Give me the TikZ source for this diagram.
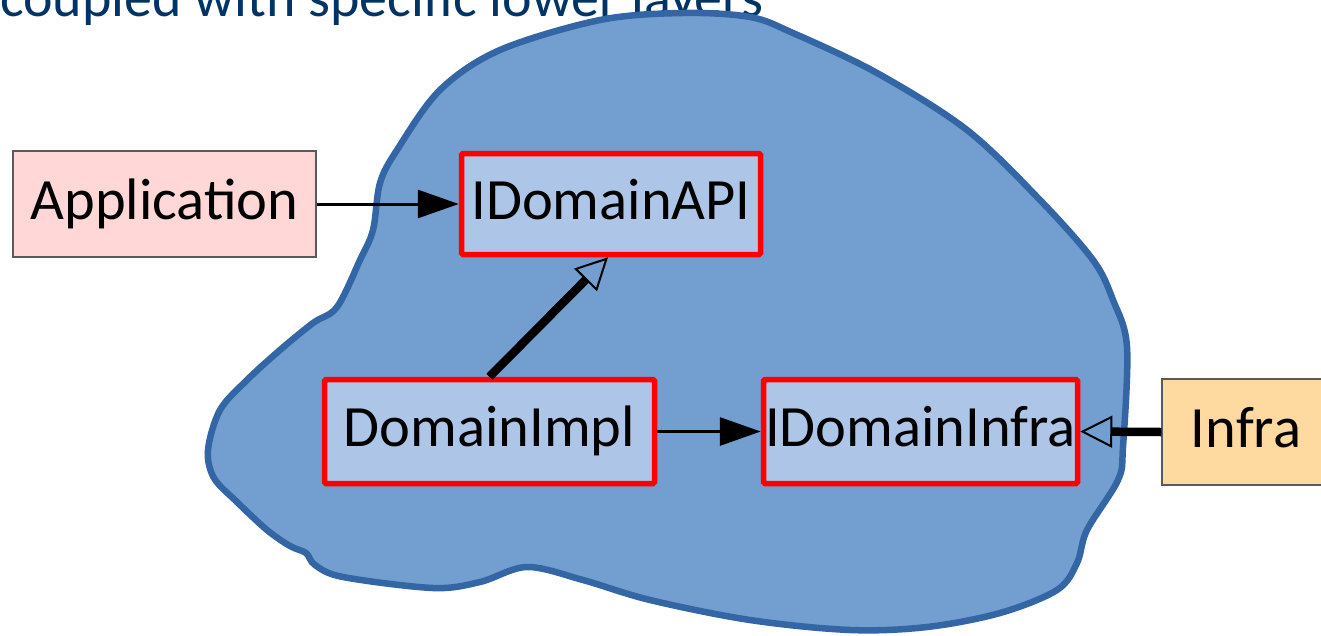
\documentclass[tikz,border=0pt]{standalone}
\usepackage{fontspec}
\setmainfont{Carlito}
\usetikzlibrary{arrows.meta,calc}

\definecolor{blobfill}{RGB}{114,159,207}
\definecolor{blobline}{RGB}{52,101,164}
\definecolor{ifacefill}{RGB}{173,198,231}
\definecolor{appfill}{RGB}{255,215,215}
\definecolor{infrafill}{RGB}{255,218,160}
\definecolor{titleblue}{RGB}{0,51,102}
\definecolor{edgegray}{RGB}{90,90,90}

\tikzset{
  lbl/.style={font=\fontsize{58.5}{62}\selectfont, text height=42pt, text depth=12pt, inner sep=0pt, text=black},
  iface/.style={lbl, draw=red, line width=5.5pt, fill=ifacefill, rounded corners=1.5pt},
  outer/.style={lbl, draw=edgegray, line width=1.2pt},
  usesarrow/.style={line width=3pt, -{Triangle[length=41pt,width=28pt]}},
  implarrow/.style={line width=8.5pt, -{Triangle[open,length=32pt,width=32pt,line width=2pt]}},
  blob/.style={draw=blobline, line width=6.5pt, fill=blobfill, line join=round}
}

\begin{document}
\begin{tikzpicture}[x=1pt,y=-1pt]
  \useasboundingbox (0,0) rectangle (1321,635);

  % heading line, partly above the page edge
  \node[anchor=base west, inner sep=0pt, text=titleblue,
        font=\fontsize{56}{60}\selectfont] (heading) at (0,16)
        {coupled with specific lower layers};

  % domain area
  \draw[blob] plot[smooth cycle, tension=0.55] coordinates {
    (397,150) (440,90) (500,50) (600,20) (683,13) (750,17) (793,33)
    (877,73) (967,130) (1040,200) (1093,260) (1113,300) (1127,347)
    (1123,447) (1118,480) (1087,530) (1077,563) (1057,590) (1000,613)
    (927,627) (850,630) (750,620) (650,600) (583,580) (527,567)
    (480,582) (433,588) (343,577) (315,565) (306,553) (290,546)
    (267,530) (237,502) (214,478) (208,450) (220,410) (247,380)
    (280,350) (313,323) (337,307) (360,260) (373,230) (380,183)
  };

  % boxes
  \node[outer, fill=appfill, minimum width=303pt, minimum height=106pt]
    (app) at (164.5,204) {Application};
  \node[iface, minimum width=299pt, minimum height=101pt]
    (api) at (611,204) {IDomainAPI};
  \node[iface, minimum width=330pt, minimum height=104pt]
    (impl) at (489.5,431.5) {DomainImpl};
  \node[iface, minimum width=314pt, minimum height=104pt]
    (dinfra) at (920.5,431.5) {IDomainInfra};
  \node[outer, fill=infrafill, minimum width=168pt, minimum height=106pt]
    (infra) at (1246,432) {Infra};

  % dependencies
  \draw[usesarrow] (app.east) -- (api.west);
  \draw[usesarrow] (impl.east) -- (dinfra.west);
  \draw[implarrow] (impl.north) -- ($(api.south)+(-3,0)$);
  \draw[implarrow] (infra.west) -- (dinfra.east);
\end{tikzpicture}
\end{document}
